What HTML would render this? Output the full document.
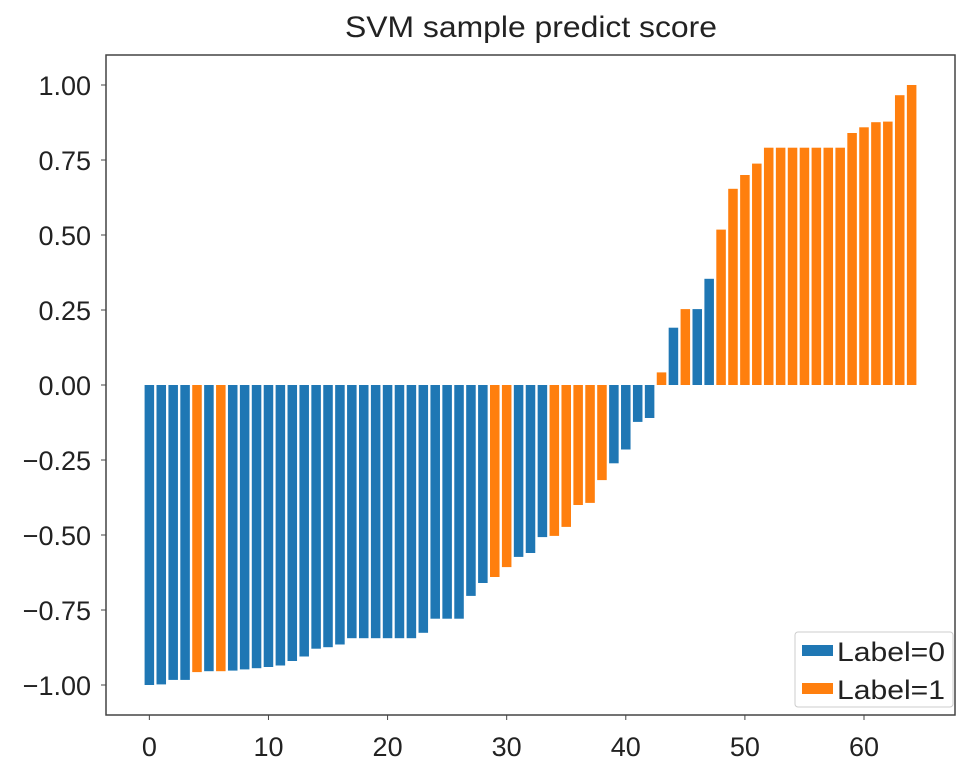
<!DOCTYPE html>
<html><head><meta charset="utf-8"><style>
html,body{margin:0;padding:0;background:#fff;}
svg{display:block;font-family:"Liberation Sans",sans-serif;}
</style></head><body>
<svg id="chart" width="969" height="769" viewBox="0 0 969 769" xmlns="http://www.w3.org/2000/svg">
<text x="531" y="37" font-size="30" text-anchor="middle" fill="#222" textLength="372" lengthAdjust="spacingAndGlyphs">SVM sample predict score</text>
<g id="bars"></g>
<g id="axes"></g>
<g>
<rect x="795" y="632" width="158" height="75" rx="3" fill="#fff" stroke="#ccc" stroke-width="1"/>
<rect x="802" y="645" width="31" height="11" fill="#1f77b4"/>
<text x="837" y="661" font-size="27" fill="#222" textLength="108" lengthAdjust="spacingAndGlyphs">Label=0</text>
<rect x="802" y="683" width="31" height="11" fill="#ff7f0e"/>
<text x="837" y="699" font-size="27" fill="#222" textLength="108" lengthAdjust="spacingAndGlyphs">Label=1</text>
</g>
</svg>
<script>
const scores = [-1.00,-0.998,-0.983,-0.983,-0.957,-0.954,-0.954,-0.952,-0.948,-0.944,-0.94,-0.935,-0.92,-0.905,-0.879,-0.874,-0.865,-0.844,-0.844,-0.844,-0.844,-0.844,-0.844,-0.826,-0.779,-0.779,-0.779,-0.703,-0.66,-0.64,-0.607,-0.573,-0.56,-0.507,-0.503,-0.473,-0.40,-0.393,-0.317,-0.261,-0.215,-0.123,-0.11,0.042,0.191,0.253,0.253,0.354,0.518,0.654,0.70,0.738,0.791,0.791,0.791,0.791,0.791,0.791,0.791,0.84,0.859,0.876,0.878,0.966,1.0];
const labels = [0,0,0,0,1,0,1,0,0,0,0,0,0,0,0,0,0,0,0,0,0,0,0,0,0,0,0,0,0,1,1,0,0,0,1,1,1,1,1,0,0,0,0,1,0,1,0,0,1,1,1,1,1,1,1,1,1,1,1,1,1,1,1,1,1];
const xTicks = [0,10,20,30,40,50,60];
const yTicks = [1.00,0.75,0.50,0.25,0.00,-0.25,-0.50,-0.75,-1.00];
const NS="http://www.w3.org/2000/svg";
const L=106,R=955,T=55,B=715;
const n=scores.length;
const xmin=-0.4-0.05*(n-0.2), xmax=(n-1)+0.4+0.05*(n-0.2);
const X=v=>L+(v-xmin)/(xmax-xmin)*(R-L);
const Y=v=>T+(1.1-v)/2.2*(B-T);
const colors=["#1f77b4","#ff7f0e"];
const bars=document.getElementById('bars');
const bw=(X(1)-X(0))*0.8;
scores.forEach((s,i)=>{
  const r=document.createElementNS(NS,'rect');
  
  
  r.setAttribute('x',X(i)-bw/2);
  r.setAttribute('y',Math.min(Y(s),Y(0)));
  r.setAttribute('width',bw);
  r.setAttribute('height',Math.abs(Y(s)-Y(0)));
  r.setAttribute('fill',colors[labels[i]]);
  bars.appendChild(r);
});
const ax=document.getElementById('axes');
const frame=document.createElementNS(NS,'rect');


frame.setAttribute('x',L);frame.setAttribute('y',T);
frame.setAttribute('width',R-L);frame.setAttribute('height',B-T);
frame.setAttribute('fill','none');frame.setAttribute('stroke','#444');frame.setAttribute('stroke-width','1.5');
ax.appendChild(frame);
xTicks.forEach(t=>{
  const l=document.createElementNS(NS,'line');
  
  
  l.setAttribute('x1',X(t));l.setAttribute('x2',X(t));l.setAttribute('y1',B);l.setAttribute('y2',B+5);
  l.setAttribute('stroke','#444');ax.appendChild(l);
  const tx=document.createElementNS(NS,'text');
  
  
  tx.setAttribute('x',X(t));tx.setAttribute('y',B+41);
  tx.setAttribute('font-size','27');tx.setAttribute('text-anchor','middle');tx.setAttribute('fill','#222');
  tx.textContent=t;ax.appendChild(tx);
});
yTicks.forEach(t=>{
  const l=document.createElementNS(NS,'line');
  
  
  l.setAttribute('x1',L-5);l.setAttribute('x2',L);l.setAttribute('y1',Y(t));l.setAttribute('y2',Y(t));
  l.setAttribute('stroke','#444');ax.appendChild(l);
  const tx=document.createElementNS(NS,'text');
  
  
  tx.setAttribute('x',L-15);tx.setAttribute('y',Y(t)+10);
  tx.setAttribute('font-size','27');tx.setAttribute('text-anchor','end');tx.setAttribute('fill','#222');
  tx.textContent=(t<0?'\u2212':'')+Math.abs(t).toFixed(2);ax.appendChild(tx);
});
</script>
</body></html>
